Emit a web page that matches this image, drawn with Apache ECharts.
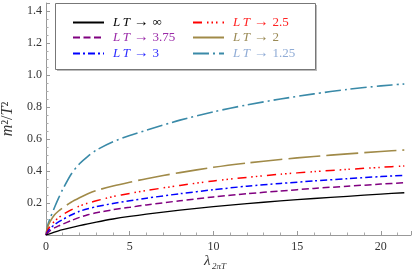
<!DOCTYPE html>
<html><head><meta charset="utf-8">
<script src="https://cdn.jsdelivr.net/npm/echarts@6/dist/echarts.min.js"></script>
<style>html,body{margin:0;padding:0;background:#fff}#c{width:415px;height:272px}</style>
</head><body><div id="c"></div>
<script>
const lambdaVals = [0, 0.1, 0.25, 0.5, 0.75, 1, 1.5, 2, 2.5, 3, 4, 5, 6, 8, 10, 12, 14, 16, 18, 20, 21.4];
const lt_inf  = [0, 0.004, 0.008, 0.018, 0.026, 0.033, 0.046, 0.058, 0.070, 0.081, 0.100, 0.116, 0.130, 0.155, 0.177, 0.196, 0.213, 0.228, 0.242, 0.256, 0.264];
const lt_375  = [0, 0.012, 0.027, 0.044, 0.057, 0.068, 0.090, 0.110, 0.126, 0.139, 0.158, 0.173, 0.188, 0.214, 0.238, 0.258, 0.275, 0.291, 0.305, 0.318, 0.327];
const lt_3    = [0, 0.020, 0.040, 0.064, 0.082, 0.097, 0.125, 0.148, 0.164, 0.177, 0.197, 0.214, 0.230, 0.258, 0.283, 0.305, 0.322, 0.338, 0.352, 0.365, 0.373];
const lt_25   = [0, 0.030, 0.055, 0.085, 0.108, 0.127, 0.157, 0.181, 0.199, 0.214, 0.240, 0.260, 0.278, 0.310, 0.338, 0.360, 0.380, 0.396, 0.410, 0.423, 0.431];
const lt_2    = [0, 0.050, 0.085, 0.125, 0.150, 0.170, 0.205, 0.233, 0.258, 0.278, 0.306, 0.330, 0.352, 0.390, 0.423, 0.450, 0.472, 0.491, 0.507, 0.522, 0.531];
const lt_125  = [0, 0.060, 0.105, 0.170, 0.230, 0.285, 0.380, 0.445, 0.492, 0.530, 0.583, 0.622, 0.655, 0.718, 0.770, 0.813, 0.850, 0.882, 0.910, 0.932, 0.944];
const seriesNames = ['LT → ∞', 'LT → 3.75', 'LT → 3', 'LT → 2.5', 'LT → 2', 'LT → 1.25'];
const legendValues = ['∞', '3.75', '3', '2.5', '2', '1.25'];
const seriesData = [lt_inf, lt_375, lt_3, lt_25, lt_2, lt_125];
const xTicks = [0, 5, 10, 15, 20];
const yTicks = [0.2, 0.4, 0.6, 0.8, 1.0, 1.2, 1.4];

const lineColors = ['#000000', '#800080', '#0000ff', '#ff0000', '#a08a48', '#3a8aa8'];
const textColors = ['#000000', '#9a2aa8', '#2a2aff', '#ff2222', '#9a8a55', '#90acd6'];
const dashes = ['solid', [7,3.5], [7,3,2,3], [9,5,1.5,3,1.5,3,1.5,5], [32,6], [16,4,2,4]];
const widths = [1.3, 1.5, 1.5, 1.5, 1.6, 1.6];
const legendPos = [[72,15],[72,30],[72,46],[192,15],[192,30],[192,46]];

const SERIF = '"Liberation Serif","DejaVu Serif",serif';
const chart = echarts.init(document.getElementById('c'), null, {renderer:'canvas'});

const series = seriesNames.map((n,i)=>({
  name: n, type: 'line', symbol: 'none', smooth: 0.25,
  data: lambdaVals.map((x,j)=>[x, seriesData[i][j]]),
  lineStyle: {color: lineColors[i], width: widths[i], type: dashes[i]},
  itemStyle: {color: lineColors[i]},
  z: 10 - i
}));

const legends = seriesNames.map((n,i)=>({
  data: [n], left: legendPos[i][0], top: legendPos[i][1], orient:'vertical', z: 30,
  itemWidth: 31, itemHeight: 10, itemGap: 0, padding: 0, selectedMode: false,
  itemStyle: {opacity: 0},
  formatter: () => '{i|L\u2009T}{a| → }{n|' + legendValues[i] + '}',
  textStyle: {color: textColors[i], fontFamily: SERIF, fontSize: 13,
    rich: {i: {fontStyle:'italic', fontFamily: SERIF, fontSize: 13, color: textColors[i], padding: [0,0,0,4]},
           a: {fontFamily: SERIF, fontSize: 15, color: textColors[i]},
           n: {fontFamily: SERIF, fontSize: 13, color: textColors[i]}}}
}));

chart.setOption({
  animation: false,
  grid: {left: 46, right: 4, top: 3, bottom: 37, containLabel: false, outerBoundsMode: 'none'},
  legend: legends,
  xAxis: {
    type: 'value', min: 0, max: 21.8, interval: 5,
    axisLine: {lineStyle: {color: '#999', width: 1}},
    axisTick: {inside: true, length: 4, lineStyle: {color: '#999'}},
    minorTick: {show: true, splitNumber: 5, length: 2.5, lineStyle: {color: '#aaa'}},
    splitLine: {show: false},
    axisLabel: {color: '#333', fontFamily: SERIF, fontSize: 12, margin: 6,
      formatter: v => xTicks.includes(v) ? String(v) : '', showMaxLabel: false}
  },
  yAxis: {
    type: 'value', min: 0, max: 1.45, interval: 0.2,
    axisLine: {show: true, lineStyle: {color: '#999', width: 1}},
    axisTick: {show: true, inside: true, length: 4, lineStyle: {color: '#999'}},
    minorTick: {show: true, splitNumber: 4, length: 2.5, lineStyle: {color: '#aaa'}},
    splitLine: {show: false},
    axisLabel: {color: '#333', fontFamily: SERIF, fontSize: 12, margin: 4,
      formatter: v => { const t = yTicks.find(y => Math.abs(y - v) < 1e-6); return t === undefined ? '' : t.toFixed(1); },
      showMaxLabel: false},
    name: '{i|m}{n|²/}{i|T}{n|²}', nameLocation: 'middle', nameGap: 22, nameRotate: 90,
    nameTextStyle: {color: '#333', fontFamily: SERIF, fontSize: 16,
      rich: {i: {fontStyle: 'italic', fontFamily: SERIF, fontSize: 16, color: '#333'},
             n: {fontFamily: SERIF, fontSize: 16, color: '#333'}}}
  },
  graphic: [
    {type: 'rect', left: 57, top: 5, shape: {width: 260, height: 66}, style: {fill: '#bbb'}, z: 1},
    {type: 'rect', left: 55, top: 3, shape: {width: 260, height: 66}, style: {fill: '#fff', stroke: '#777', lineWidth: 1}, z: 2},
    {type: 'text', left: 204, top: 254, style: {text: 'λ', font: 'italic 15px ' + SERIF, fill: '#333'}, z: 100},
    {type: 'text', left: 212, top: 262, style: {text: '2πT', font: 'italic 9px ' + SERIF, fill: '#333'}, z: 100}
  ],
  series: series
});
</script></body></html>
